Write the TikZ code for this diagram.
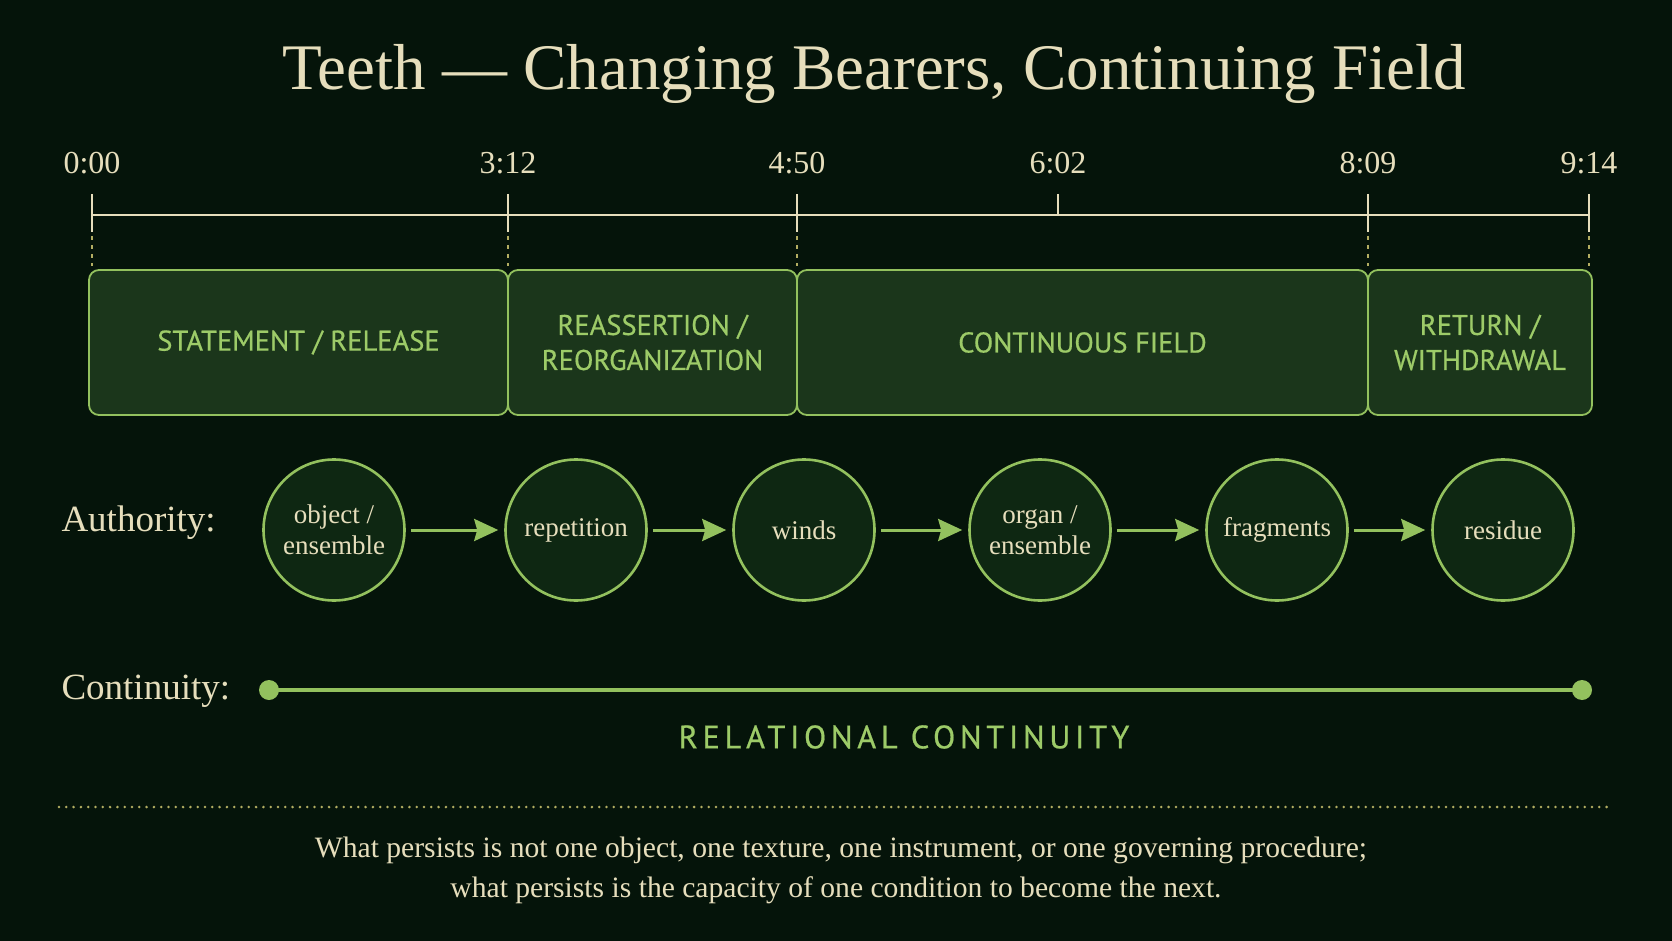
\documentclass[tikz,border=0pt]{standalone}
\usepackage{fontspec}
\setmainfont{Liberation Serif}
\newfontfamily\phasefont[FakeBold=0.6]{PT Sans}
\usepackage{tikz}
\usetikzlibrary{arrows.meta}
\usetikzlibrary{positioning}
\definecolor{bgdark}{HTML}{05140A}
\definecolor{cream}{HTML}{E6DEBC}
\definecolor{leaf}{HTML}{93C15E}
\definecolor{leaftext}{HTML}{9DCB68}
\definecolor{phasefill}{HTML}{1B361B}
\definecolor{bearerfill}{HTML}{0E2712}
\definecolor{guide}{HTML}{B3AE62}
\tikzset{
    phase/.style={draw=leaf, line width=1.8pt, fill=phasefill, rounded corners=10pt, inner sep=0pt},
    phaselabel/.style={text=leaftext, font=\phasefont\fontsize{28.5}{35}\selectfont, align=center},
    bearer/.style={circle, draw=leaf, line width=2.6pt, fill=bearerfill, minimum size=141pt, inner sep=0pt, text=cream, font=\fontsize{27}{31}\selectfont, align=center},
    handoff/.style={-{Stealth[length=24pt,width=22pt,inset=3pt]}, draw=leaf, line width=3pt, shorten <=5pt, shorten >=6pt}
}

\begin{document}
\begin{tikzpicture}[x=1pt,y=-1pt]
\useasboundingbox[fill=bgdark] (0,0) rectangle (1672,941);
\node[text=cream, font=\fontsize{65}{76}\selectfont, anchor=base] (title) at (874,90) {Teeth --- Changing Bearers, Continuing Field};
% time axis
\coordinate (axl) at (92,215);
\coordinate (axr) at (1589,215);
\draw[cream, line width=2pt] (axl)--(axr);
\foreach \x/\p/\labeltext/\cut in {92/t0/{0:00}/1, 508/t1/{3:12}/1, 797/t2/{4:50}/1, 1058/t3/{6:02}/0, 1368/t4/{8:09}/1, 1589/t5/{9:14}/1}{
    \coordinate (\p) at (\x,194);
    \node[text=cream, font=\fontsize{32}{36}\selectfont] at (\x,163) {\labeltext};
    \ifnum\cut=1
        \draw[cream, line width=2pt] (\p)--(\x,232);
        \draw[guide, line width=1.6pt, dash pattern=on 4pt off 5pt] (\x,236)--(\x,266);
    \else
        \draw[cream, line width=2pt] (\p)--(\x,215);
    \fi
}
% phases
\foreach \a/\b/\p/\labeltext in {89/508/stmt/{STATEMENT / RELEASE}, 508/797/reas/{REASSERTION /\\REORGANIZATION}, 797/1368/field/{CONTINUOUS FIELD}, 1368/1592/ret/{RETURN /\\WITHDRAWAL}}{
    \node[phase, minimum width={(\b-\a)*1pt}, minimum height=145pt] (\p) at ({(\a+\b)/2},342.5) {};
    \node[phaselabel] at (\p) {\labeltext};
}
% authority
\node[text=cream, font=\fontsize{37}{40}\selectfont, anchor=west] (auth) at (58,523) {Authority:};
\foreach \x/\p/\labeltext in {334/obj/{object /\\ensemble}, 576/rep/{repetition}, 804/winds/{winds}, 1040/organ/{organ /\\ensemble}, 1277/frag/{fragments}, 1503/resid/{residue}}{
    \node[bearer] (\p) at (\x,530) {\labeltext};
}
\foreach \a/\b in {obj/rep, rep/winds, winds/organ, organ/frag, frag/resid}{
    \draw[handoff] (\a)--(\b);
}
% continuity
\node[text=cream, font=\fontsize{37}{40}\selectfont, anchor=west] (cont) at (58,691) {Continuity:};
\coordinate (cs) at (269,690);
\coordinate (ce) at (1582,690);
\draw[leaf, line width=4pt] (cs)--(ce);
\fill[leaf] (cs) circle (10) (ce) circle (10);
\node[text=leaftext, font=\phasefont\fontsize{32.5}{36}\selectfont\addfontfeature{LetterSpace=14}] (rel) at (904,737) {RELATIONAL CONTINUITY};
% closing note
\draw[guide, line width=2.8pt, line cap=round, dash pattern=on 0pt off 7.3pt] (59,807)--(1610,807);
\node[text=cream, font=\fontsize{29.6}{40}\selectfont, anchor=base] (note1) at (841,857) {What persists is not one object, one texture, one instrument, or one governing procedure;};
\node[text=cream, font=\fontsize{29.6}{40}\selectfont, anchor=base] (note2) at (836,897) {what persists is the capacity of one condition to become the next.};
\end{tikzpicture}
\end{document}
